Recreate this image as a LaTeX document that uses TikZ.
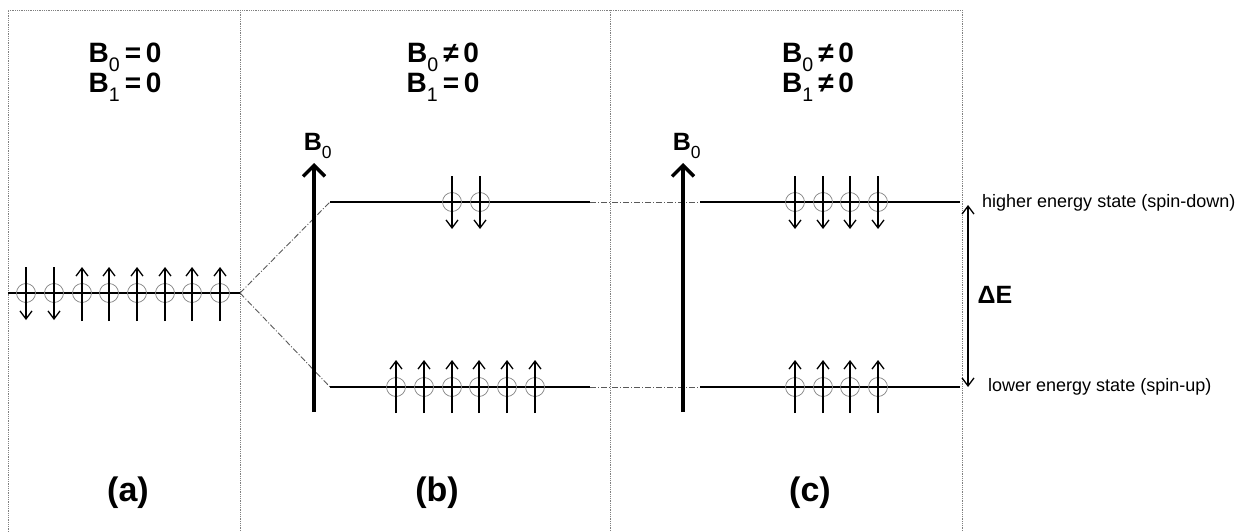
\documentclass[tikz,border=0pt]{standalone}
\usepackage{fontspec}
\setmainfont{Liberation Sans}
\usetikzlibrary{arrows.meta}
\tikzset{
  frame/.style={draw=gray, densely dotted, line width=0.8pt},
  level/.style={draw=black, line width=1.3pt},
  dashdot/.style={draw=gray!70!black, line width=0.9pt, dash pattern=on 6pt off 2pt on 1pt off 2pt},
  spin/.style={circle, draw=gray, minimum size=19pt, inner sep=0pt, line width=0.7pt},
  sarrow/.style={-{Straight Barb[length=8pt,width=12pt,line width=1.3pt]}, line width=1.3pt},
  bigarrow/.style={-{Straight Barb[length=11pt,width=22pt,line width=3.5pt]}, line width=4.5pt},
  title/.style={font=\bfseries\fontsize{28}{30}\selectfont, align=center},
  panellabel/.style={font=\bfseries\fontsize{34}{38}\selectfont},
  blabel/.style={font=\bfseries\fontsize{25}{28}\selectfont},
  elabel/.style={font=\fontsize{18}{20}\selectfont, anchor=west, inner sep=0pt}
}
\newcommand{\lsub}[1]{\raisebox{-0.3ex}{\textsubscript{\mdseries #1}}}
\begin{document}
\begin{tikzpicture}[x=1pt,y=-1pt]
\useasboundingbox (0,0) rectangle (1241,532);
% frame
\draw[frame] (8,532) -- (8,10) -- (962,10) -- (962,532);
\draw[frame] (240,10) -- (240,532);
\draw[frame] (610,10) -- (610,532);
% titles
\node[title] (ta) at (125,72) {B\lsub{0}\,=\,0\\B\lsub{1}\,=\,0};
\node[title] (tb) at (443,72) {B\lsub{0}\,≠\,0\\B\lsub{1}\,=\,0};
\node[title] (tc) at (818,72) {B\lsub{0}\,≠\,0\\B\lsub{1}\,≠\,0};
% panel labels
\node[panellabel] (la) at (128,493) {(a)};
\node[panellabel] (lb) at (437,493) {(b)};
\node[panellabel] (lc) at (810,493) {(c)};
% level coordinates
\coordinate (a0) at (8,293);
\coordinate (a1) at (240,293);
\coordinate (bu0) at (330,202);
\coordinate (bu1) at (590,202);
\coordinate (bl0) at (330,387);
\coordinate (bl1) at (590,387);
\coordinate (cu0) at (700,202);
\coordinate (cu1) at (960,202);
\coordinate (cl0) at (700,387);
\coordinate (cl1) at (960,387);
\draw[dashdot] (a1) -- (bu0);
\draw[dashdot] (a1) -- (bl0);
\draw[dashdot] (bu1) -- (cu0);
\draw[dashdot] (bl1) -- (cl0);
\draw[level] (a0) -- (a1);
\draw[level] (bu0) -- (bu1);
\draw[level] (bl0) -- (bl1);
\draw[level] (cu0) -- (cu1);
\draw[level] (cl0) -- (cl1);
% B0 arrows
\coordinate (bbs) at (314,412);
\coordinate (bbe) at (314,163);
\draw[bigarrow] (bbs) -- (bbe);
\node[blabel] (bbl) at (318,146) {B\lsub{0}};
\coordinate (cbs) at (683,412);
\coordinate (cbe) at (683,163);
\draw[bigarrow] (cbs) -- (cbe);
\node[blabel] (cbl) at (687,146) {B\lsub{0}};
% spins panel a
\foreach \x [count=\i] in {26,54,82,109,137,165,192,220}
  \node[spin] (sa\i) at (\x,293) {};
\foreach \i in {1,2}
  \draw[sarrow] (sa\i.center) ++(0,-26) -- ++(0,53);
\foreach \i in {3,...,8}
  \draw[sarrow] (sa\i.center) ++(0,28) -- ++(0,-54);
% spins panel b
\foreach \x [count=\i] in {452,480}
  {\node[spin] (sbu\i) at (\x,202) {};
   \draw[sarrow] (sbu\i.center) ++(0,-26) -- ++(0,53);}
\foreach \x [count=\i] in {396,424,452,479,507,535}
  {\node[spin] (sbl\i) at (\x,387) {};
   \draw[sarrow] (sbl\i.center) ++(0,26) -- ++(0,-53);}
% spins panel c
\foreach \x [count=\i] in {795,823,850,878}
  {\node[spin] (scu\i) at (\x,202) {};
   \draw[sarrow] (scu\i.center) ++(0,-26) -- ++(0,53);
   \node[spin] (scl\i) at (\x,387) {};
   \draw[sarrow] (scl\i.center) ++(0,26) -- ++(0,-53);}
% Delta E
\coordinate (de0) at (968,205);
\coordinate (de1) at (968,387);
\draw[sarrow, {Straight Barb[length=8pt,width=12pt,line width=1.3pt]}-{Straight Barb[length=8pt,width=12pt,line width=1.3pt]}] (de0) -- (de1);
\node[blabel, anchor=west] (del) at (974,295) {ΔE};
\node[elabel] (eh) at (982,203) {higher energy state (spin-down)};
\node[elabel] (el) at (988,387) {lower energy state (spin-up)};
\end{tikzpicture}
\end{document}
